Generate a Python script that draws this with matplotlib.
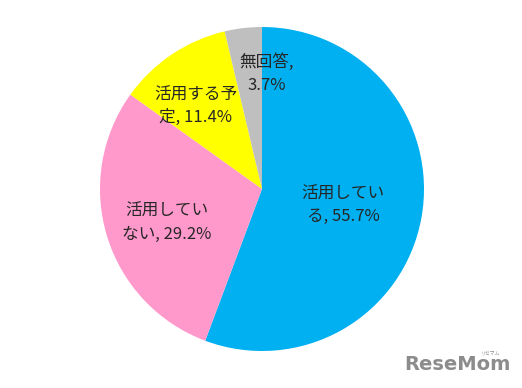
import matplotlib
matplotlib.use("Agg")
import matplotlib.pyplot as plt

plt.rcParams['font.family'] = ['Noto Sans CJK JP', 'DejaVu Sans']

categories = ["活用している", "活用していない", "活用する予定", "無回答"]
values = [55.7, 29.2, 11.4, 3.7]
label_texts = ["活用してい\nる, 55.7%", "活用してい\nない, 29.2%", "活用する予\n定, 11.4%", "無回答,\n3.7%"]
colors = ["#00B0F0", "#FF99CC", "#FFFF00", "#BFBFBF"]
# label positions (layout, in axes data units, pie radius = 1)
label_pos = [(0.50, -0.10), (-0.59, -0.21), (-0.41, 0.51), (0.03, 0.71)]

W, H = 522, 388
fig = plt.figure(figsize=(W / 100, H / 100), dpi=100)
cx, cy, r = 262, 189, 162
ax = fig.add_axes([(cx - r) / W, (H - cy - r) / H, 2 * r / W, 2 * r / H])
ax.pie(values, colors=colors, startangle=90, counterclock=False, radius=1,
       wedgeprops=dict(linewidth=0))
ax.set_xlim(-1, 1)
ax.set_ylim(-1, 1)
ax.set_aspect('equal')
ax.axis('off')

for txt, (x, y) in zip(label_texts, label_pos):
    ax.text(x, y, txt, ha='center', va='center', fontsize=12, color='#262626',
            linespacing=1.45)

fig.text(457 / W, 1 - 365 / H, "ReseMom", ha='center', va='center', fontsize=14,
         fontweight='bold', color='#8c8c8c', family=['DejaVu Sans'])
fig.text(491 / W, 1 - 353 / H, "リセマム", ha='center', va='center', fontsize=3.5,
         color='#8c8c8c')

fig.savefig("out.png", dpi=100)
